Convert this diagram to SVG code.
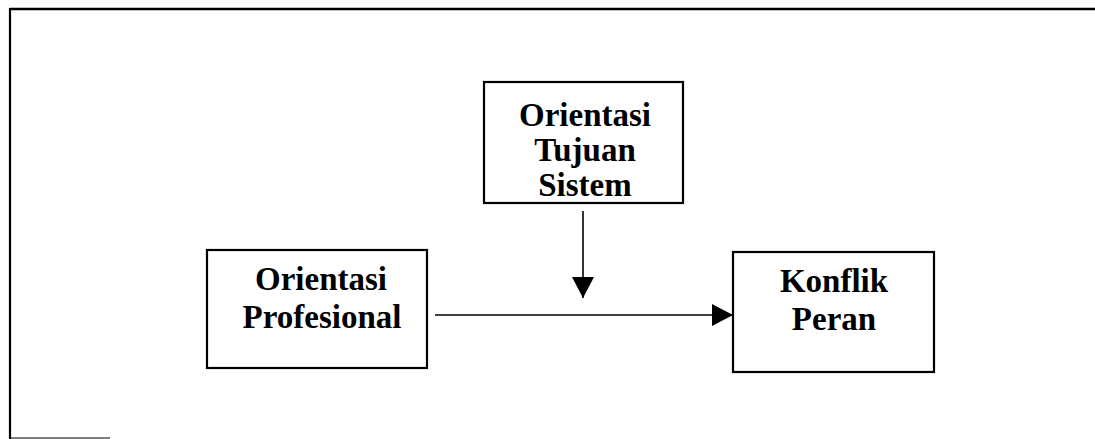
<svg xmlns="http://www.w3.org/2000/svg" width="1095" height="439" viewBox="0 0 1095 439">
<style>
.box{fill:#fff;stroke:#000;stroke-width:2.2}
.lbl{font-family:"Liberation Serif","Times New Roman",serif;font-weight:bold;font-size:33px;fill:#000;text-anchor:middle}
.conn{stroke:#000;stroke-width:1.6;fill:none}
.frame{stroke:#000;fill:none}
</style>
<defs>
<marker id="ah" markerWidth="21" markerHeight="22" refX="21" refY="11" orient="auto" markerUnits="userSpaceOnUse">
<path d="M0,0 L21,11 L0,22 Z" fill="#000"/>
</marker>
</defs>
<rect width="1095" height="439" fill="#fff"/>
<g id="frame">
<line class="frame" x1="10" y1="9" x2="1095" y2="9" stroke-width="2.5"/>
<line class="frame" x1="10" y1="8" x2="10" y2="439" stroke-width="2.2"/>
<line class="frame" x1="10" y1="438" x2="110" y2="438" stroke-width="1.2" stroke="#666"/>
</g>
<g id="node-tujuan">
<rect class="box" x="484" y="82" width="199" height="121"/>
<text class="lbl" x="585" y="126">Orientasi</text>
<text class="lbl" x="585" y="161">Tujuan</text>
<text class="lbl" x="585" y="196">Sistem</text>
</g>
<g id="node-profesional">
<rect class="box" x="207" y="250" width="220" height="118"/>
<text class="lbl" x="321" y="290">Orientasi</text>
<text class="lbl" x="322" y="328">Profesional</text>
</g>
<g id="node-konflik">
<rect class="box" x="733" y="252" width="201" height="120"/>
<text class="lbl" x="834" y="292">Konflik</text>
<text class="lbl" x="834" y="330">Peran</text>
</g>
<g id="connectors">
<line class="conn" x1="435" y1="315" x2="733" y2="315" marker-end="url(#ah)"/>
<line class="conn" x1="583" y1="211" x2="583" y2="298" marker-end="url(#ah)"/>
</g>
</svg>
